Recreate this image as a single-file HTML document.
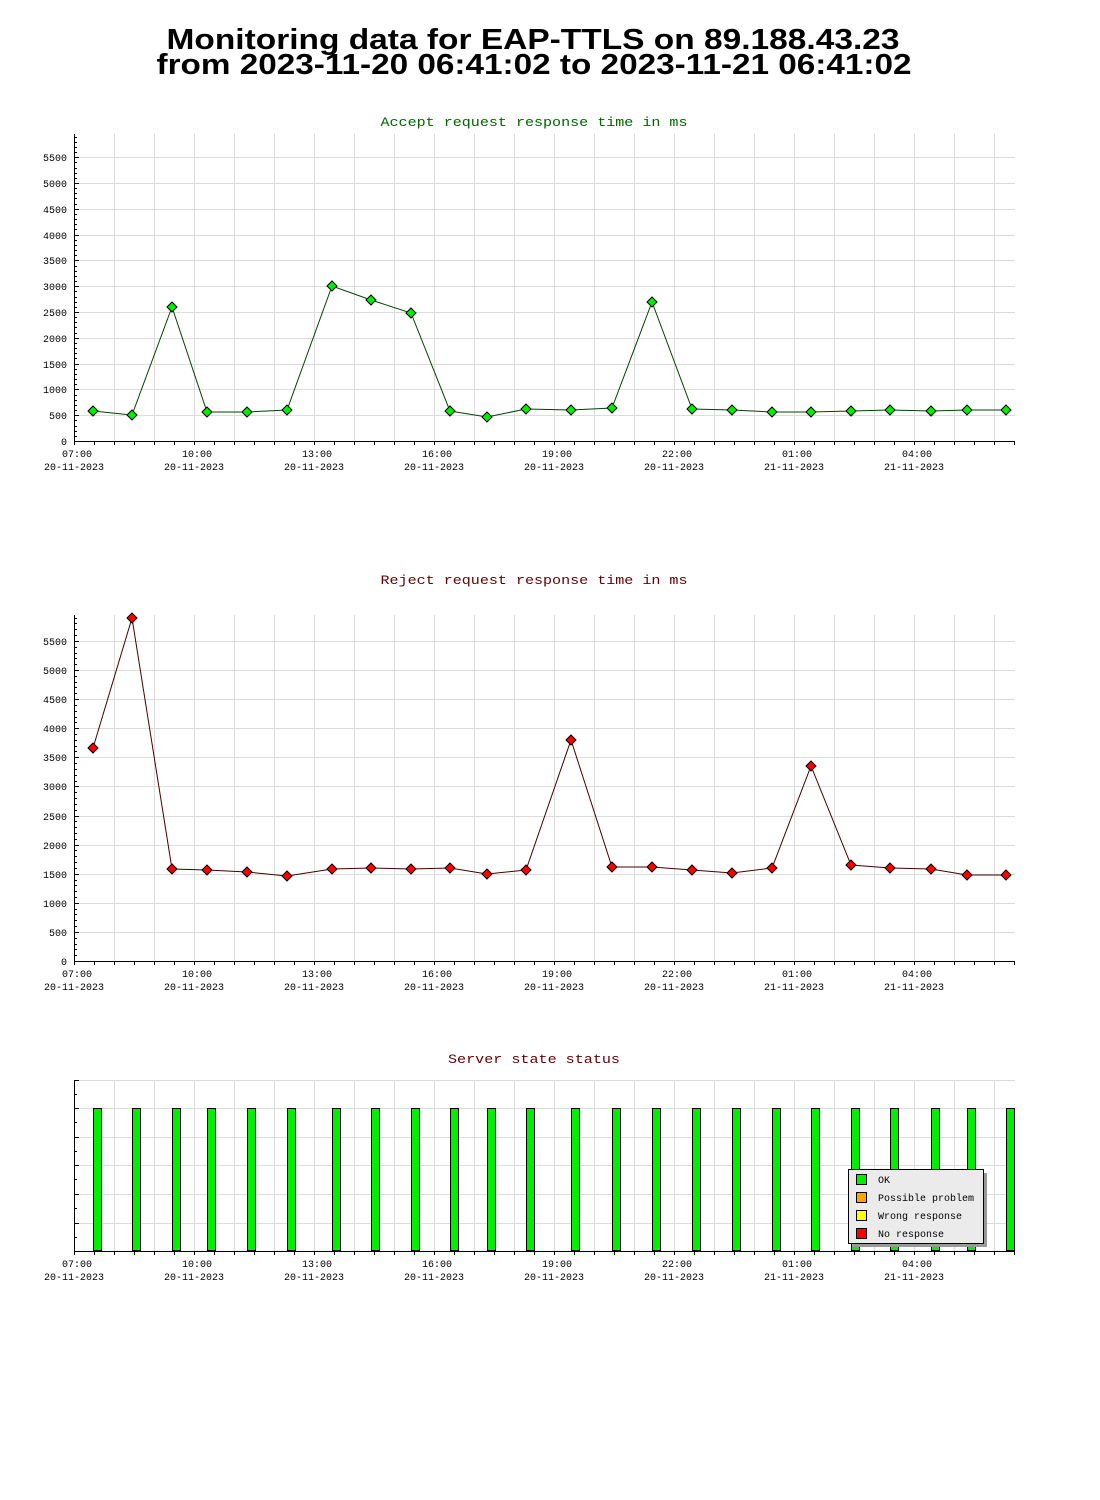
<!DOCTYPE html>
<html><head><meta charset="utf-8"><style>
html,body{margin:0;padding:0;background:#fff;width:1100px;height:1500px;overflow:hidden}
</style></head><body>
<svg id="s" width="1100" height="1500" xmlns="http://www.w3.org/2000/svg" font-family="'Liberation Mono', monospace">
<text x="533" y="49" text-anchor="middle" font-family="'Liberation Sans',sans-serif" font-weight="bold" font-size="29" textLength="733" lengthAdjust="spacingAndGlyphs">Monitoring data for EAP-TTLS on 89.188.43.23</text>
<text x="534" y="74" text-anchor="middle" font-family="'Liberation Sans',sans-serif" font-weight="bold" font-size="29" textLength="755" lengthAdjust="spacingAndGlyphs">from 2023-11-20 06:41:02 to 2023-11-21 06:41:02</text>
<text x="534" y="126" text-anchor="middle" font-size="13" fill="#006600" textLength="307" lengthAdjust="spacingAndGlyphs">Accept request response time in ms</text>
<text x="534" y="584" text-anchor="middle" font-size="13" fill="#660000" textLength="307" lengthAdjust="spacingAndGlyphs">Reject request response time in ms</text>
<text x="534" y="1063" text-anchor="middle" font-size="13" fill="#660000" textLength="172" lengthAdjust="spacingAndGlyphs">Server state status</text>
<g id="g"></g>
</svg>
<script>
var g=document.getElementById('g'),h='';
var X=[93,132,172,207,247,287,332,371,411,450,487,526,571,612,652,692,732,772,811,851,890,931,967,1006];
function L(x1,y1,x2,y2,c,w){h+='<line x1="'+x1+'" y1="'+y1+'" x2="'+x2+'" y2="'+y2+'" stroke="'+c+'" stroke-width="'+(w||1)+'"/>';}
function T(x,y,t,a){h+='<text x="'+x+'" y="'+y+'" font-size="10" text-anchor="'+(a||'middle')+'">'+t+'</text>';}
var labs=[['07:00','20-11-2023'],['10:00','20-11-2023'],['13:00','20-11-2023'],['16:00','20-11-2023'],['19:00','20-11-2023'],['22:00','20-11-2023'],['01:00','21-11-2023'],['04:00','21-11-2023']];
function xaxis(top,bot){
 for(var x=114;x<=1014;x+=40)L(x+.5,top,x+.5,bot,'#dcdcdc');
 for(var x=74;x<=1014;x+=20)L(x+.5,bot,x+.5,bot+4,'#000');
 L(74,bot+.5,1015,bot+.5,'#000');L(74.5,top,74.5,bot,'#000');
 for(var i=0;i<8;i++){T(74+i*120+3,bot+16,labs[i][0]);T(74+i*120,bot+29,labs[i][1]);}
}
function chart(top,bot,step,ys,fill,line){
 for(var k=1;k<=11;k++){var y=Math.round(bot-k*step)+.5;L(75,y,1015,y,'#dcdcdc');}
 xaxis(top,bot);
 for(var v=0;bot-v*step/5>=top;v++){var y=Math.round(bot-v*step/5)+.5;L(74,y,(v%5==0)?79:77,y,'#000');}
 for(var k=0;k<=11;k++)T(67,Math.round(bot-k*step)+4,k*500,'end');
 var p='';for(var i=0;i<X.length;i++)p+=X[i]+','+ys[i]+' ';
 h+='<polyline points="'+p+'" fill="none" stroke="'+line+'" stroke-width="1"/>';
 for(var i=0;i<X.length;i++){var x=X[i],y=ys[i];h+='<polygon points="'+x+','+(y-5)+' '+(x+5)+','+y+' '+x+','+(y+5)+' '+(x-5)+','+y+'" fill="'+fill+'" stroke="#000" stroke-width="1"/>';}
}
chart(134,441,25.8,[411,415,307,412,412,410,286,300,313,411,417,409,410,408,302,409,410,412,412,411,410,411,410,410],'#00ee00','#004400');
chart(615,961,29.1,[748,618,869,870,872,876,869,868,869,868,874,870,740,867,867,870,873,868,766,865,868,869,875,875],'#ff0000','#440000');
var gy=[1080,1108,1137,1165,1194,1223];
for(var i=0;i<gy.length;i++){L(75,gy[i]+.5,1015,gy[i]+.5,'#dcdcdc');L(74,gy[i]+.5,79,gy[i]+.5,'#000');L(74,gy[i]+14.5,77,gy[i]+14.5,'#000');}
xaxis(1080,1251);
for(var i=0;i<X.length;i++)h+='<rect x="'+(X[i]+.5)+'" y="1108.5" width="8" height="142" fill="#00ee00" stroke="#000" stroke-width="1"/>';
h+='<rect x="852" y="1173" width="135" height="74" fill="#999"/>';
h+='<rect x="848.5" y="1169.5" width="135" height="74" fill="#ebebeb" stroke="#000"/>';
var lg=[['#00ee00','OK'],['#ffa500','Possible problem'],['#ffff00','Wrong response'],['#ff0000','No response']];
for(var i=0;i<4;i++){h+='<rect x="856.5" y="'+(1174.5+i*18)+'" width="10" height="10" fill="'+lg[i][0]+'" stroke="#000"/>';h+='<text x="878" y="'+(1183+i*18)+'" font-size="10">'+lg[i][1]+'</text>';}
g.innerHTML=h;
</script>
</body></html>
